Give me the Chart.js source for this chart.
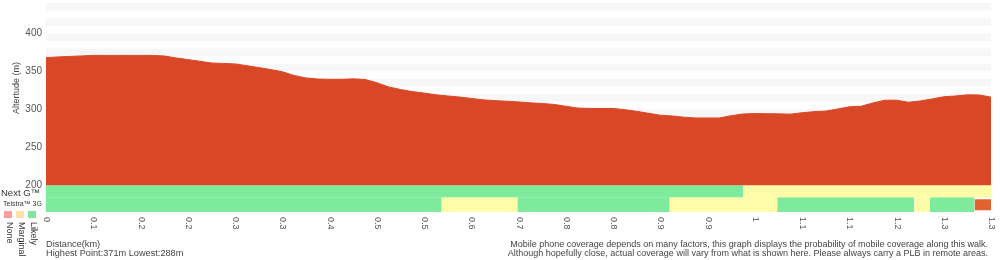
<!DOCTYPE html>
<html>
<head>
<meta charset="utf-8">
<script src="https://cdn.jsdelivr.net/npm/chart.js@4"></script>
<style>
html, body { margin: 0; padding: 0; background: #fff; }
#wrap { width: 1000px; height: 260px; position: relative; }
</style>
</head>
<body>
<div id="wrap"><canvas id="altChart"></canvas></div>
<script>
// distance labels (km) as printed under the chart
var tickLabels = ['0', '0.1', '0.2', '0.2', '0.3', '0.3', '0.4', '0.5', '0.5', '0.6', '0.7',
    '0.8', '0.8', '0.9', '0.9', '1', '1.1', '1.1', '1.2', '1.3', '1.3'];

// altitude (m), 81 evenly spaced samples along the walk
var altitude = [368, 369, 369.6, 370.3, 371, 371, 371, 371, 371, 371,
    370.2, 367.7, 365.5, 363.3, 361, 360.4, 359.8, 357.4, 355, 352.4,
    349.5, 344.5, 341.3, 339.9, 339.5, 339.5, 340.1, 339.3, 335, 329.5,
    326.1, 323.3, 321.4, 319.1, 317.6, 316.1, 314.3, 312.4, 311.4, 310.6,
    309.7, 308.5, 307.7, 306.4, 304, 301.6, 301.1, 301.1, 301.1, 299.5,
    297.3, 294.7, 292.2, 291.2, 289.6, 288.6, 288.6, 288.6, 291.5, 293.8,
    294.3, 294.2, 294, 293.6, 295.4, 296.9, 297.6, 300.3, 303.3, 304,
    308.3, 311.9, 312, 309.3, 310.9, 313.6, 316.5, 317.5, 319, 318.9, 316];

var yTicks = [200, 250, 300, 350, 400];

// coverage: breakpoints (sample index) and the level between each pair
var nextGBreaks = [0, 59, 80];
var nextGLevels = ['likely', 'marginal'];
var telstraBreaks = [0, 33.5, 39.9, 52.8, 61.9, 73.5, 74.8, 78.6, 80];
var telstraLevels = ['likely', 'marginal', 'likely', 'marginal', 'likely', 'marginal', 'likely', 'unknown'];

var legendNames = ['None', 'Marginal', 'Likely'];

var highest = 371, lowest = 288;

var levelColors = {
    none: '#ff9c9c',
    marginal: '#fffca8',
    likely: '#7deb9b',
    unknown: '#e0622f'
};
var legendColors = ['#ff9c9c', '#ffe2a8', '#7de89b'];
var step = 4; // samples between labelled ticks
var FONT = "'Liberation Sans', Arial, sans-serif";

Chart.defaults.font.family = FONT;

function coverageSets(breaks, levels, top, bottom) {
    return levels.map(function (lvl, i) {
        var t = top, b = bottom;
        if (lvl === 'unknown') { t = top - 2.6; b = bottom + 2.3; }
        return {
            data: [{x: breaks[i], y: t}, {x: breaks[i + 1], y: t}],
            fill: {value: b},
            backgroundColor: levelColors[lvl],
            borderColor: 'rgba(0,0,0,0)',
            borderWidth: 0,
            pointRadius: 0
        };
    });
}

var decorations = {
    id: 'decorations',
    beforeDatasetsDraw: function (chart) {
        var ctx = chart.ctx, area = chart.chartArea, y = chart.scales.y;
        ctx.save();
        ctx.fillStyle = '#f7f7f7';
        for (var v = 440; v > 200; v -= 20) {
            var t = y.getPixelForValue(v), b = y.getPixelForValue(v - 10);
            ctx.fillRect(area.left, t, area.right - area.left, b - t);
        }
        ctx.restore();
    },
    afterDraw: function (chart) {
        var ctx = chart.ctx, x = chart.scales.x;
        ctx.save();
        ctx.textBaseline = 'middle';

        // y title, centred on the altitude part only
        ctx.save();
        ctx.translate(17, 88);
        ctx.rotate(-Math.PI / 2);
        ctx.textAlign = 'center';
        ctx.fillStyle = '#444';
        ctx.font = '9px ' + FONT;
        ctx.fillText('Altertude (m)', 0, 0);
        ctx.restore();

        // distance ticks, rotated to read downwards
        ctx.fillStyle = '#555';
        ctx.font = '9px ' + FONT;
        ctx.textAlign = 'left';
        tickLabels.forEach(function (lab, i) {
            ctx.save();
            ctx.translate(x.getPixelForValue(i * step) + 0.5, 217);
            ctx.rotate(Math.PI / 2);
            ctx.fillText(lab, 0, 0);
            ctx.restore();
        });

        // network names
        ctx.fillStyle = '#333';
        ctx.font = '9.5px ' + FONT;
        ctx.fillText('Next G\u2122', 1, 193);
        ctx.font = '7px ' + FONT;
        ctx.fillText('Telstra\u2122 3G', 3, 204);

        // coverage key
        legendNames.forEach(function (name, i) {
            var cx = 8 + i * 12;
            ctx.fillStyle = legendColors[i];
            ctx.fillRect(cx - 4, 211, 8, 7);
            ctx.save();
            ctx.translate(cx + 1, 222);
            ctx.rotate(Math.PI / 2);
            ctx.fillStyle = '#333';
            ctx.font = '9px ' + FONT;
            ctx.fillText(name, 0, 0);
            ctx.restore();
        });

        // disclaimer
        ctx.fillStyle = '#444';
        ctx.textAlign = 'right';
        ctx.font = '9px ' + FONT;
        ctx.fillText('Mobile phone coverage depends on many factors, this graph displays the probability of mobile coverage along this walk.', 988, 244.5);
        ctx.fillText('Although hopefully close, actual coverage will vary from what is shown here. Please always carry a PLB in remote areas.', 988, 254);
        ctx.restore();
    }
};

var datasets = [{
    data: altitude.map(function (v, i) { return {x: i, y: v}; }),
    fill: {value: 200},
    backgroundColor: '#d94727',
    borderColor: '#d94727',
    borderWidth: 1,
    pointRadius: 0,
    tension: 0
}].concat(coverageSets(nextGBreaks, nextGLevels, 200, 184.1))
  .concat(coverageSets(telstraBreaks, telstraLevels, 184.1, 164.7));

var ctx = document.getElementById('altChart').getContext('2d');
var altChart = new Chart(ctx, {
    type: 'line',
    data: { datasets: datasets },
    options: {
        responsive: true,
        maintainAspectRatio: false,
        animation: false,
        layout: { padding: { top: 3, right: 9, left: 0, bottom: 0 } },
        plugins: {
            legend: { display: false },
            tooltip: { enabled: false }
        },
        scales: {
            x: {
                type: 'linear',
                min: 0,
                max: altitude.length - 1,
                ticks: { display: false },
                grid: { display: false, drawTicks: false },
                border: { display: false },
                title: {
                    display: true,
                    align: 'start',
                    text: ['Distance(km)', 'Highest Point:' + highest + 'm Lowest:' + lowest + 'm'],
                    color: '#444',
                    font: { size: 9.2, lineHeight: '9px' },
                    padding: { top: 0, bottom: 2.5 }
                },
                afterFit: function (s) { s.height = 48; s.paddingLeft = 0; s.paddingRight = 0; }
            },
            y: {
                min: 164.7,
                max: 440,
                afterBuildTicks: function (s) {
                    s.ticks = yTicks.map(function (v) { return {value: v}; });
                },
                ticks: { color: '#555', font: { size: 10 }, padding: 4 },
                grid: { display: false, drawTicks: false },
                border: { display: false },
                title: { display: false },
                afterFit: function (s) { s.width = 46; s.paddingTop = 0; s.paddingBottom = 0; }
            }
        }
    },
    plugins: [decorations]
});
</script>
</body>
</html>
